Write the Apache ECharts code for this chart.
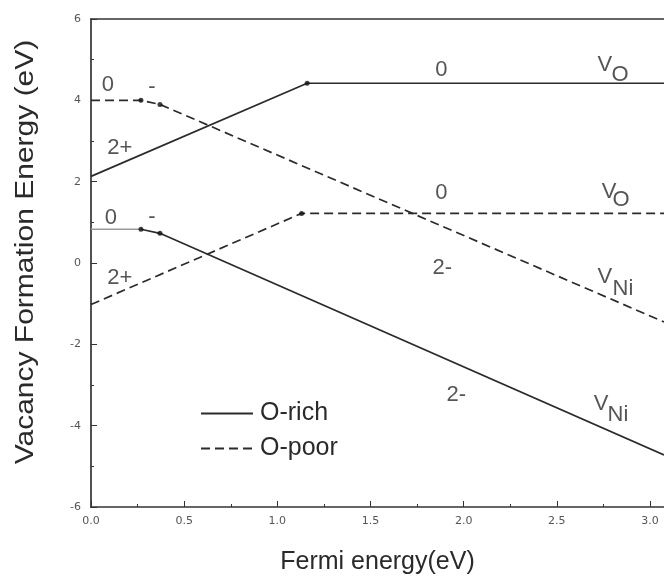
<!DOCTYPE html>
<html><head><meta charset="utf-8">
<script src="https://cdn.jsdelivr.net/npm/echarts@6/dist/echarts.min.js"></script>
<style>html,body{margin:0;padding:0;background:#fff}#c{width:664px;height:585px}</style>
</head><body><div id="c"></div>
<script>
// data
var xMax = 3.075;
var oRichVO  = [[0, 2.13], [1.16, 4.42], [xMax, 4.42]];
var oPoorVO  = [[0, -1.02], [1.13, 1.22], [xMax, 1.22]];
var oPoorVNi = [[0, 4.0], [0.268, 4.0], [0.37, 3.9], [xMax, -1.45]];
var oRichVNiFlat = [[0, 0.83], [0.268, 0.83]];
var oRichVNi = [[0.268, 0.83], [0.37, 0.73], [xMax, -4.72]];
var transitionDots = [[1.16, 4.42], [1.13, 1.22], [0.268, 4.0], [0.37, 3.9], [0.268, 0.83], [0.37, 0.73]];
var annotations = [
  {t: '0', x: 0.091, y: 4.38}, {t: '-', x: 0.327, y: 4.33}, {t: '2+', x: 0.155, y: 2.83},
  {t: '0', x: 0.107, y: 1.11}, {t: '-', x: 0.327, y: 1.13}, {t: '2+', x: 0.155, y: -0.37},
  {t: '0', x: 1.88, y: 4.75}, {t: '0', x: 1.88, y: 1.72},
  {t: '2-', x: 1.885, y: -0.12}, {t: '2-', x: 1.96, y: -3.25},
  {t: 'V', x: 2.758, y: 4.87}, {t: 'O', x: 2.839, y: 4.62},
  {t: 'V', x: 2.78, y: 1.75}, {t: 'O', x: 2.844, y: 1.55},
  {t: 'V', x: 2.758, y: -0.34}, {t: 'Ni', x: 2.855, y: -0.64},
  {t: 'V', x: 2.737, y: -3.47}, {t: 'Ni', x: 2.828, y: -3.74}
];
var xTitle = 'Fermi energy(eV)';
var yTitle = 'Vacancy Formation Energy (eV)';

var lineCol = '#2b2b2b';
function lineSeries(name, data, dashed, col) {
  return {
    type: 'line', name: name, data: data, symbol: 'none', silent: true,
    lineStyle: {color: col || lineCol, width: 1.7, type: dashed ? [9, 5] : 'solid'},
    itemStyle: {color: col || lineCol}, z: 3
  };
}
var chart = echarts.init(document.getElementById('c'));
chart.setOption({
  animation: false,
  grid: {left: 91, right: 0, top: 19, bottom: 78, outerBoundsMode: 'none'},
  legend: {
    orient: 'vertical', left: 195, top: 396, itemWidth: 52, itemHeight: 14, itemGap: 10,
    data: ['O-rich', 'O-poor'],
    itemStyle: {opacity: 0},
    textStyle: {fontFamily: 'Liberation Sans', fontSize: 25, color: '#2a2a2a', padding: [0, 0, 0, 2]}
  },
  graphic: [{
    type: 'text', x: 26, y: 252, rotation: Math.PI / 2, scaleX: 1.2,
    style: {text: yTitle, fontFamily: 'Liberation Sans', fontSize: 25, fill: '#2a2a2a',
      align: 'center', verticalAlign: 'middle'}
  }],
  xAxis: [{
    type: 'value', min: 0, max: xMax, interval: 0.5,
    name: xTitle, nameLocation: 'middle', nameGap: 43,
    nameTextStyle: {fontFamily: 'Liberation Sans', fontSize: 25, color: '#2a2a2a'},
    axisLine: {onZero: false, lineStyle: {color: '#333', width: 1.7}},
    axisTick: {inside: true, length: 6, lineStyle: {color: '#333'}},
    minorTick: {show: true, splitNumber: 2, length: 3, lineStyle: {color: '#333'}},
    axisLabel: {fontFamily: 'DejaVu Sans', fontSize: 11, color: '#555', margin: 9,
      formatter: function (v) { return v.toFixed(1); }, showMaxLabel: false},
    splitLine: {show: false}
  }, {
    type: 'value', position: 'top', min: 0, max: xMax,
    axisLine: {show: true, onZero: false, lineStyle: {color: '#333', width: 1.7}},
    axisTick: {show: false}, axisLabel: {show: false}, splitLine: {show: false}
  }],
  yAxis: {
    type: 'value', min: -6, max: 6, interval: 2,
    axisLine: {show: true, onZero: false, lineStyle: {color: '#333', width: 1.7}},
    axisTick: {inside: true, length: 6, lineStyle: {color: '#333'}},
    minorTick: {show: true, splitNumber: 2, length: 3, lineStyle: {color: '#333'}},
    axisLabel: {fontFamily: 'DejaVu Sans', fontSize: 11, color: '#555', margin: 10},
    splitLine: {show: false}
  },
  series: [
    lineSeries('O-rich', oRichVO, false),
    lineSeries('O-poor', oPoorVO, true),
    lineSeries('O-poor', oPoorVNi, true),
    lineSeries('O-rich', oRichVNiFlat, false, '#9a9a9a'),
    lineSeries('O-rich', oRichVNi, false),
    {type: 'scatter', data: transitionDots, symbolSize: 5, itemStyle: {color: '#111'}, silent: true, z: 4},
    {type: 'scatter', symbolSize: 0, silent: true, z: 5,
      data: annotations.map(function (a) { return {value: [a.x, a.y], name: a.t}; }),
      label: {show: true, position: 'inside', formatter: function (p) { return p.name; },
        fontFamily: 'Liberation Sans', fontSize: 22, color: '#2a2a2a'}
    }
  ]
});
</script></body></html>
